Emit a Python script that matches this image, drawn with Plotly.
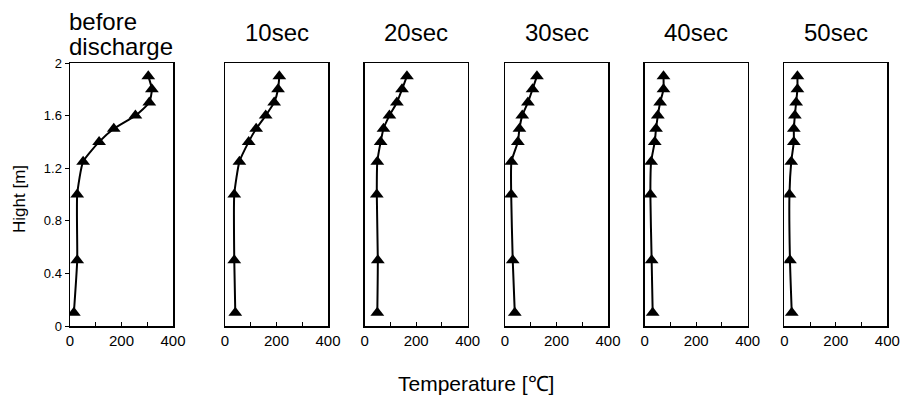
import plotly.graph_objects as go

heights = [0.1, 0.5, 1.0, 1.25, 1.4, 1.5, 1.6, 1.7, 1.8, 1.9]
titles = ["before discharge", "10sec", "20sec", "30sec", "40sec", "50sec"]
temp_before = [15, 28, 28, 51, 113, 170, 254, 308, 318, 304]
temp_10s = [40, 36, 36, 56, 92, 121, 158, 191, 206, 211]
temp_20s = [49, 51, 47, 49, 62, 73, 96, 125, 145, 164]
temp_30s = [38, 30, 24, 25, 50, 56, 67, 89, 107, 124]
temp_40s = [31, 27, 22, 25, 39, 44, 51, 60, 73, 73]
temp_50s = [29, 22, 20, 27, 37, 37, 41, 46, 51, 51]
series = [temp_before, temp_10s, temp_20s, temp_30s, temp_40s, temp_50s]

x_ticks = [0, 100, 200, 300, 400]
x_ticktext = ["0", "", "200", "", "400"]
y_ticks = [0, 0.4, 0.8, 1.2, 1.6, 2.0]
y_ticktext = ["0", "0.4", "0.8", "1.2", "1.6", "2"]

W, H = 904, 404


def px(x):
    return x / W


def py(y):
    return 1 - y / H


lefts = [70, 225, 364.7, 505, 644.7, 784.3]
pw = 103
ytop, ybot = 63, 326

fig = go.Figure()
font = "Liberation Sans, Arial, sans-serif"
for i, (vals, lf) in enumerate(zip(series, lefts)):
    n = "" if i == 0 else str(i + 1)
    fig.add_trace(go.Scatter(
        x=vals, y=heights, mode="lines+markers",
        line=dict(color="black", width=2, shape="spline", smoothing=0.5),
        marker=dict(symbol="triangle-up", size=12, color="black"),
        xaxis="x" + n, yaxis="y" + n, showlegend=False))
    fig.layout["xaxis" + n] = dict(
        domain=[px(lf), px(lf + pw)], range=[0, 400], anchor="y" + n,
        tickvals=x_ticks, ticktext=x_ticktext, ticks="inside", ticklen=4,
        tickcolor="black", showline=True, linecolor="black", linewidth=1.5,
        mirror=True, showgrid=False, zeroline=False, automargin=False,
        ticklabeloverflow="allow",
        tickfont=dict(size=15, color="black", family=font), fixedrange=True)
    fig.layout["yaxis" + n] = dict(
        domain=[py(ybot), py(ytop)], range=[0, 2], anchor="x" + n,
        tickvals=y_ticks, ticktext=y_ticktext if i == 0 else [""] * 6,
        ticks="outside" if i == 0 else "", ticklen=4, tickcolor="black",
        showticklabels=(i == 0),
        showline=True, linecolor="black", linewidth=1.5, mirror=True,
        showgrid=False, zeroline=False, automargin=False,
        tickfont=dict(size=13, color="black", family=font), fixedrange=True)
    if i == 0:
        words = titles[i].split(" ")
        for w, yc in zip(words, [21, 46.5]):
            fig.add_annotation(text=w, x=px(67), y=py(yc),
                               xref="paper", yref="paper", xanchor="left",
                               yanchor="middle", showarrow=False,
                               font=dict(size=24, color="black", family=font))
    else:
        fig.add_annotation(text=titles[i], x=px(lf + pw / 2), y=py(33),
                           xref="paper", yref="paper", xanchor="center",
                           yanchor="middle", showarrow=False,
                           font=dict(size=24, color="black", family=font))

fig.add_annotation(text="Temperature [℃]", x=px(476), y=py(383),
                   xref="paper", yref="paper", xanchor="center", yanchor="middle",
                   showarrow=False, font=dict(size=21, color="black", family=font))
fig.add_annotation(text="Hight [m]", x=px(19), y=py(199), textangle=-90,
                   xref="paper", yref="paper", xanchor="center", yanchor="middle",
                   showarrow=False, font=dict(size=17, color="black", family=font))

fig.update_layout(width=W, height=H, template="none",
                  margin=dict(l=0, r=0, t=0, b=0),
                  paper_bgcolor="white", plot_bgcolor="white",
                  hovermode=False)
fig.write_html(
    "out.html",
    config={"displayModeBar": False, "staticPlot": True},
    post_script="document.body.style.margin='0';"
                "document.documentElement.style.overflow='hidden';",
)
